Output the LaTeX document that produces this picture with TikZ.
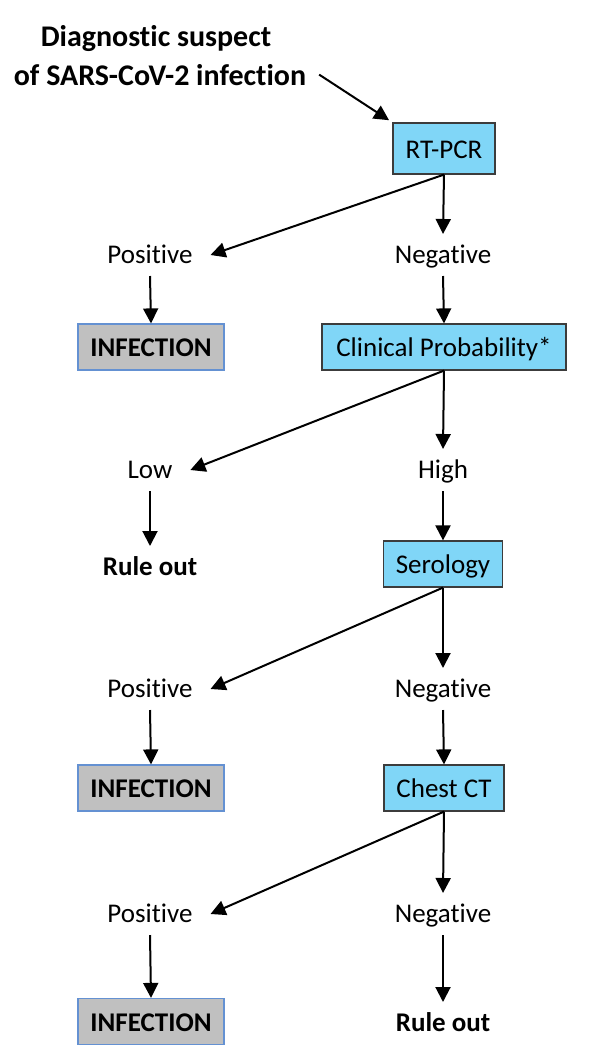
\documentclass[tikz,border=0pt]{standalone}
\usepackage{fontspec}
\setmainfont{Carlito}[Ligatures={NoCommon,NoContextual}]
\usetikzlibrary{arrows.meta, positioning}
\definecolor{testblue}{RGB}{128,214,247}
\definecolor{testedge}{RGB}{60,60,60}
\definecolor{infgrey}{RGB}{192,192,192}
\definecolor{infedge}{RGB}{100,145,210}
\tikzstyle{flow}=[x=1pt, y=-1pt, line width=2pt, >={Triangle[length=15pt,width=15pt]}]
\tikzstyle{test}=[draw=testedge, line width=1.2pt, fill=testblue, inner sep=0pt,
  minimum height=46pt, text height=23pt, text depth=4pt,
  font=\fontsize{27}{32}\selectfont]
\tikzstyle{infection}=[test, draw=infedge, fill=infgrey, minimum width=146pt,
  font=\fontsize{27}{32}\selectfont\bfseries]
\tikzstyle{outcome}=[anchor=base, inner xsep=17pt, inner ysep=8pt,
  text height=20pt, text depth=4pt, font=\fontsize{27}{32}\selectfont]
\tikzstyle{verdict}=[outcome, font=\fontsize{27}{32}\selectfont\bfseries]
\tikzstyle{heading}=[anchor=base, inner xsep=12pt, font=\fontsize{30}{39}\selectfont\bfseries]

\begin{document}
\begin{tikzpicture}[flow]
  \useasboundingbox (0,0) rectangle (591,1061);
  \node[heading] (title1) at (156,46) {Diagnostic suspect};
  \node[heading] (title2) at (160,85) {of SARS-CoV-2 infection};
  \node[test, minimum width=102pt, minimum height=51pt] (rtpcr) at (444,148.5) {RT-PCR};
  \node[outcome] (pos1) at (150,263) {Positive};
  \node[outcome] (neg1) at (443,263) {Negative};
  \node[infection] (inf1) at (151,347) {INFECTION};
  \node[test, minimum width=244pt] (clin) at (444,347) {Clinical Probability*};
  \node[outcome] (low) at (150,478) {Low};
  \node[outcome] (high) at (443,478) {High};
  \node[verdict] (out1) at (150,575) {Rule out};
  \node[test, minimum width=119pt] (sero) at (443,564) {Serology};
  \node[outcome] (pos2) at (150,697) {Positive};
  \node[outcome] (neg2) at (443,697) {Negative};
  \node[infection] (inf2) at (151,788) {INFECTION};
  \node[test, minimum width=120pt] (ct) at (444,788) {Chest CT};
  \node[outcome] (pos3) at (150,922) {Positive};
  \node[outcome] (neg3) at (443,922) {Negative};
  \node[infection] (inf3) at (151,1021.5) {INFECTION};
  \node[verdict] (out2) at (443,1031) {Rule out};
  \path[->, shorten >=4pt] (title2.east) edge (rtpcr.north west);
  \path[->] (rtpcr.south) edge (pos1.east);
  \path[->] (rtpcr.south) edge (neg1.north);
  \path[->] (pos1.south) edge (inf1.north);
  \path[->] (neg1.south) edge (clin.north);
  \path[->] (clin.south) edge (low.east);
  \path[->] (clin.south) edge (high.north);
  \path[->] (low.south) edge (out1.north);
  \path[->] (high.south) edge (sero.north);
  \path[->] (sero.south) edge (pos2.east);
  \path[->] (sero.south) edge (neg2.north);
  \path[->] (pos2.south) edge (inf2.north);
  \path[->] (neg2.south) edge (ct.north);
  \path[->] (ct.south) edge (pos3.east);
  \path[->] (ct.south) edge (neg3.north);
  \path[->] (pos3.south) edge (inf3.north);
  \path[->] (neg3.south) edge (out2.north);
\end{tikzpicture}
\end{document}
